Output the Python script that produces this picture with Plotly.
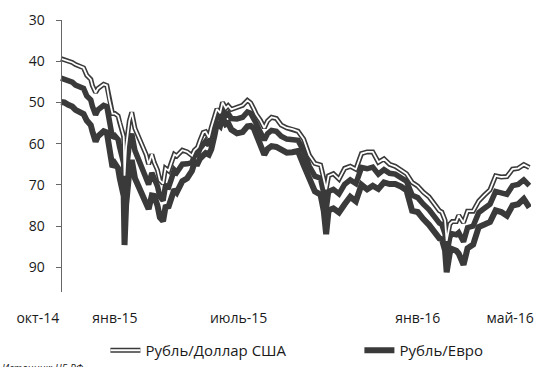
import plotly.graph_objects as go

# ---- data ----
dates = [
    "2014-09-29", "2014-10-03", "2014-10-08", "2014-10-13", "2014-10-17", "2014-10-22", "2014-10-27", "2014-10-31",
    "2014-11-05", "2014-11-07", "2014-11-11", "2014-11-14", "2014-11-18", "2014-11-21", "2014-11-25", "2014-11-28",
    "2014-12-02", "2014-12-05", "2014-12-09", "2014-12-11", "2014-12-13", "2014-12-16", "2014-12-17", "2014-12-18",
    "2014-12-19", "2014-12-23", "2014-12-26", "2014-12-30", "2015-01-13", "2015-01-16", "2015-01-20", "2015-01-23",
    "2015-01-27", "2015-01-30", "2015-02-03", "2015-02-06", "2015-02-10", "2015-02-13", "2015-02-17", "2015-02-20",
    "2015-02-25", "2015-02-27", "2015-03-05", "2015-03-11", "2015-03-14", "2015-03-18", "2015-03-21", "2015-03-25",
    "2015-03-28", "2015-04-01", "2015-04-04", "2015-04-08", "2015-04-11", "2015-04-15", "2015-04-18", "2015-04-22",
    "2015-04-25", "2015-04-29", "2015-05-06", "2015-05-13", "2015-05-19", "2015-05-23", "2015-05-27", "2015-05-30",
    "2015-06-04", "2015-06-09", "2015-06-13", "2015-06-18", "2015-06-24", "2015-06-30", "2015-07-07", "2015-07-14",
    "2015-07-21", "2015-07-28", "2015-08-04", "2015-08-11", "2015-08-18", "2015-08-22", "2015-08-25", "2015-08-28",
    "2015-09-03", "2015-09-10", "2015-09-17", "2015-09-24", "2015-10-01", "2015-10-08", "2015-10-15", "2015-10-22",
    "2015-10-29", "2015-11-05", "2015-11-12", "2015-11-19", "2015-11-26", "2015-12-03", "2015-12-10", "2015-12-17",
    "2015-12-24", "2015-12-31", "2016-01-13", "2016-01-16", "2016-01-20", "2016-01-22", "2016-01-26", "2016-01-29",
    "2016-02-03", "2016-02-06", "2016-02-12", "2016-02-17", "2016-02-24", "2016-03-02", "2016-03-09", "2016-03-16",
    "2016-03-23", "2016-03-30", "2016-04-06", "2016-04-13", "2016-04-20", "2016-04-27", "2016-05-04",
]

usd = [
    39.4, 39.6, 40.0, 40.3, 40.8, 41.2, 41.6, 43.4,
    44.4, 45.9, 47.6, 46.6, 46.0, 45.6, 45.9, 49.3,
    52.7, 52.7, 53.3, 54.9, 56.0, 58.3, 67.8, 61.2,
    60.7, 54.5, 52.4, 56.3, 62.7, 65.0, 62.6, 64.6,
    66.4, 68.9, 69.7, 66.0, 66.6, 64.8, 62.6, 63.0,
    62.1, 61.6, 62.0, 62.9, 61.6, 60.9, 59.2, 57.3,
    57.1, 58.5, 56.1, 53.2, 51.6, 52.6, 50.0, 51.4,
    50.8, 51.7, 51.2, 50.7, 49.5, 50.1, 51.6, 52.9,
    54.3, 56.2, 54.5, 53.6, 53.9, 55.5, 56.2, 56.5,
    57.0, 58.9, 62.8, 64.8, 65.2, 68.4, 71.1, 67.8,
    67.3, 68.6, 66.0, 65.5, 66.2, 62.4, 62.0, 62.0,
    64.5, 63.7, 65.0, 65.5, 66.4, 67.3, 69.4, 70.3,
    71.8, 72.9, 76.3, 76.6, 78.6, 83.6, 79.5, 78.9,
    78.9, 77.4, 79.2, 76.4, 76.4, 73.9, 72.5, 71.2,
    67.8, 68.1, 68.0, 66.2, 66.0, 65.1, 65.8,
]

eur = [
    49.9, 50.0, 50.6, 51.0, 51.8, 52.3, 52.8, 54.4,
    55.5, 57.0, 59.5, 58.2, 57.3, 57.0, 57.3, 61.4,
    65.7, 64.8, 66.0, 68.3, 69.7, 72.7, 84.6, 76.0,
    74.8, 66.7, 64.0, 68.4, 74.1, 75.9, 72.6, 72.7,
    75.0, 77.9, 78.8, 75.4, 75.2, 73.7, 71.1, 71.8,
    70.2, 69.1, 68.4, 66.6, 64.6, 64.8, 63.6, 62.9,
    62.3, 62.7, 61.4, 58.0, 55.0, 55.7, 53.6, 55.3,
    55.0, 56.6, 57.5, 57.2, 55.8, 55.7, 56.3, 57.8,
    60.7, 62.7, 61.3, 60.6, 60.8, 61.5, 62.2, 62.1,
    61.8, 65.2, 68.7, 71.6, 72.4, 76.3, 82.0, 76.2,
    75.7, 76.7, 74.7, 72.9, 74.0, 70.0, 71.1, 70.2,
    71.0, 69.4, 69.8, 69.8, 70.4, 71.3, 76.3, 76.6,
    78.3, 79.7, 83.0, 83.2, 85.9, 91.2, 86.4, 85.6,
    86.0, 86.7, 89.4, 85.4, 84.5, 80.2, 79.6, 79.0,
    76.2, 76.6, 77.5, 75.0, 74.7, 73.4, 75.5,
]

basket = [
    44.1, 44.3, 44.8, 45.1, 45.8, 46.2, 46.6, 48.4,
    49.4, 50.9, 53.0, 51.8, 51.1, 50.7, 51.0, 54.7,
    58.6, 58.1, 59.0, 60.9, 62.2, 64.8, 75.4, 67.9,
    67.0, 60.0, 57.6, 61.7, 67.8, 69.9, 67.1, 68.2,
    70.3, 72.9, 73.8, 70.2, 70.5, 68.8, 66.4, 67.0,
    65.7, 65.0, 64.9, 64.6, 62.9, 62.7, 61.2, 59.8,
    59.4, 60.4, 58.5, 55.4, 53.1, 54.0, 51.6, 53.2,
    52.7, 53.9, 54.0, 53.6, 52.3, 52.6, 53.7, 55.1,
    57.2, 59.1, 57.6, 56.8, 57.0, 58.2, 58.9, 59.0,
    59.2, 61.7, 65.5, 67.9, 68.4, 72.0, 76.0, 71.6,
    71.1, 72.2, 69.9, 68.8, 69.7, 65.8, 66.1, 65.7,
    67.4, 66.3, 67.2, 67.4, 68.2, 69.1, 72.5, 73.1,
    74.7, 76.0, 79.3, 79.6, 81.9, 87.0, 82.6, 81.9,
    82.1, 81.6, 83.8, 80.4, 80.0, 76.7, 75.7, 74.7,
    71.6, 71.9, 72.3, 70.2, 69.9, 68.8, 70.2,
]

tick_labels = ["окт-14", "янв-15", "июль-15", "янв-16", "май-16"]
# where the labels sit on the axis (layout only)
label_positions = ["2014-08-31", "2014-12-05", "2015-05-08", "2015-12-17", "2016-04-10"]

name_usd = "Рубль/Доллар США"
name_eur = "Рубль/Евро"

FONT = "Open Sans, Noto Sans, DejaVu Sans, sans-serif"
DARK = "#3a3a3a"

fig = go.Figure()
fig.add_trace(go.Scatter(x=dates, y=eur, mode="lines", name=name_eur,
                         line=dict(color=DARK, width=6), legend="legend", legendrank=2,
                         legendwidth=100))
fig.add_trace(go.Scatter(x=dates, y=basket, mode="lines", name="basket", showlegend=False,
                         line=dict(color=DARK, width=5.5)))
fig.add_trace(go.Scatter(x=dates, y=usd, mode="lines", name=name_usd,
                         line=dict(color=DARK, width=5), legend="legend", legendrank=1,
                         legendwidth=209))
fig.add_trace(go.Scatter(x=dates, y=usd, mode="lines", name=name_usd,
                         line=dict(color="white", width=1.8), legend="legend2",
                         legendwidth=209))

legend_common = dict(orientation="h", x=106 / 534, xanchor="left", y=-0.215, yanchor="middle",
                     bgcolor="rgba(0,0,0,0)", borderwidth=0, tracegroupgap=0)

fig.update_layout(
    width=534, height=367,
    margin=dict(l=0, r=0, t=20, b=72),
    paper_bgcolor="white", plot_bgcolor="white",
    font=dict(family=FONT, color="#1a1a1a"),
    showlegend=True,
    legend=dict(**legend_common, font=dict(family=FONT, size=15, color="#1a1a1a")),
    legend2=dict(**legend_common, font=dict(family=FONT, size=15, color="rgba(0,0,0,0)")),
    xaxis=dict(
        type="date", range=["2014-07-15", "2016-05-06"],
        tickvals=label_positions, ticktext=tick_labels,
        showgrid=False, zeroline=False, showline=False, ticks="",
        tickfont=dict(family=FONT, size=14, color="#1a1a1a"),
        ticklabelstandoff=16, ticklabeloverflow="allow",
    ),
    yaxis=dict(
        range=[96, 30], tickvals=[30, 40, 50, 60, 70, 80, 90],
        anchor="free", position=61 / 534,
        showgrid=False, zeroline=False, showline=True, linecolor="#666", linewidth=1,
        ticks="outside", ticklen=5, tickcolor="#666",
        tickfont=dict(family=FONT, size=14, color="#1a1a1a"),
        ticklabelstandoff=8,
    ),
    annotations=[dict(text="<i>Источник: ЦБ РФ</i>", xref="paper", yref="paper",
                      x=0.0, y=-0.245, xanchor="left", yanchor="top", showarrow=False,
                      font=dict(family=FONT, size=10, color="#1a1a1a"))],
)

fig.write_html("out.html")
